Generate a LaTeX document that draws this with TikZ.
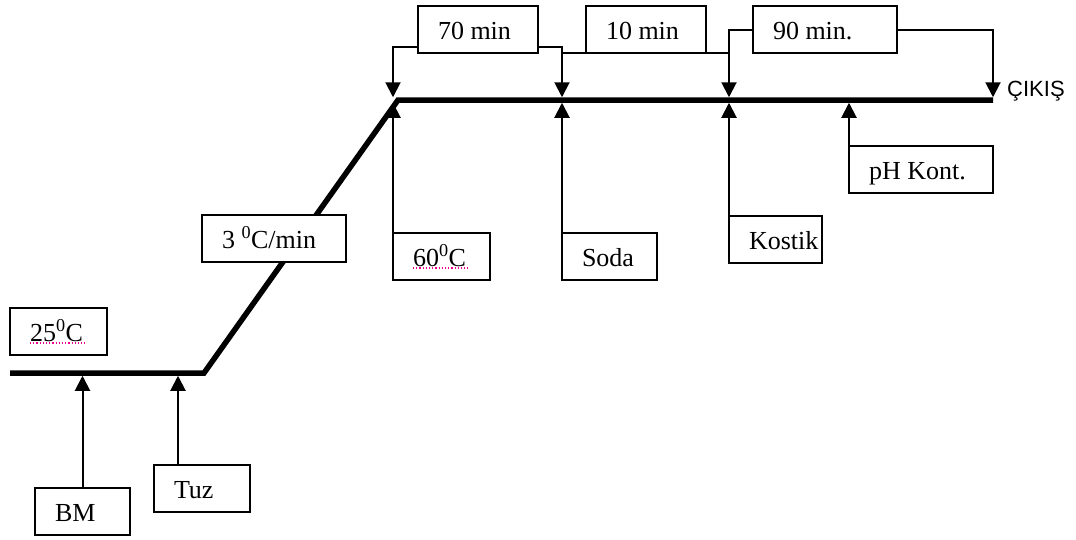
\documentclass[tikz,border=0pt]{standalone}
\usepackage{fontspec}
\setmainfont{Liberation Serif}
\newfontfamily\sansf{Liberation Sans}
\usetikzlibrary{arrows.meta}
\newcommand\btext[2]{\makebox[#1][l]{\hspace{20pt}#2}}
\begin{document}
\begin{tikzpicture}[x=1pt,y=-1pt,
  box/.style={draw, line width=2pt, fill=white, inner sep=0pt, outer sep=0pt,
    minimum height=47pt, text height=19pt, text depth=0pt, anchor=north west,
    font=\fontsize{26}{30}\selectfont},
  conn/.style={line width=2pt},
  arr/.style={conn, -{Triangle[width=15pt,length=15pt]}},
  mainline/.style={line width=5.5pt},
  spell/.style={draw=magenta, dotted, line width=1.2pt}]
\useasboundingbox (0,0) rectangle (1076,539);
% main process line
\coordinate (L0) at (10,373);
\coordinate (L1) at (204,373);
\coordinate (M0) at (398,100);
\coordinate (M1) at (993,100);
\coordinate (Mtop) at (0,97.25);
\coordinate (Mbot) at (0,102.75);
\coordinate (Lbot) at (0,375.75);
\draw[mainline] (L0) -- (L1) -- (M0) -- (M1);
% boxes
\node[box] (t25) at (10,308) {\btext{97pt}{25\textsuperscript{0}C}};
\node[box] (tBM) at (35,488) {\btext{95pt}{BM}};
\node[box] (tTuz) at (154,465) {\btext{96pt}{Tuz}};
\node[box] (t3) at (202,215) {\btext{144pt}{3 \textsuperscript{0}C/min}};
\node[box] (t60) at (393,233) {\btext{97pt}{60\textsuperscript{0}C}};
\node[box] (tSoda) at (562,233) {\btext{95pt}{Soda}};
\node[box] (tKostik) at (729,216) {\btext{93pt}{Kostik}};
\node[box] (tpH) at (849,146) {\btext{144pt}{pH Kont.}};
\node[box] (t70) at (418,6) {\btext{120pt}{70 min}};
\node[box] (t10) at (586,6) {\btext{120pt}{10 min}};
\node[box] (t90) at (753,6) {\btext{144pt}{90 min.}};
\node[anchor=base west, inner sep=0pt, font=\sansf\fontsize{22}{26}\selectfont] (out) at (1007,96) {ÇIKIŞ};
% spell-check underlines
\draw[spell] ([xshift=20pt,yshift=-35pt]t25.north west) -- ++(55,0);
\draw[spell] ([xshift=20pt,yshift=-35pt]t60.north west) -- ++(55,0);
% inputs
\draw[arr] (tBM.north) -- (tBM.north |- Lbot);
\draw[arr] ([xshift=24pt]tTuz.north west) -- ([xshift=24pt]tTuz.north west |- Lbot);
\draw[arr] (t60.north west) -- (t60.north west |- Mbot);
\draw[arr] (tSoda.north west) -- (tSoda.north west |- Mbot);
\draw[arr] (tKostik.north west) -- (tKostik.north west |- Mbot);
\draw[arr] (tpH.north west) -- (tpH.north west |- Mbot);
% time brackets
\draw[arr] ([yshift=6pt]t70.south west) -| (t60.north west |- Mtop);
\draw[arr] ([yshift=6pt]t70.south east) -| (tSoda.north west |- Mtop);
\draw[conn] (t10.south west) -- (t10.south west -| tSoda.north west);
\draw[conn] (t10.south east) -- (t10.south east -| tKostik.north west);
\draw[arr] (t90.west) -| (tKostik.north west |- Mtop);
\draw[arr] (t90.east) -| (tpH.north east |- Mtop);
\end{tikzpicture}
\end{document}
